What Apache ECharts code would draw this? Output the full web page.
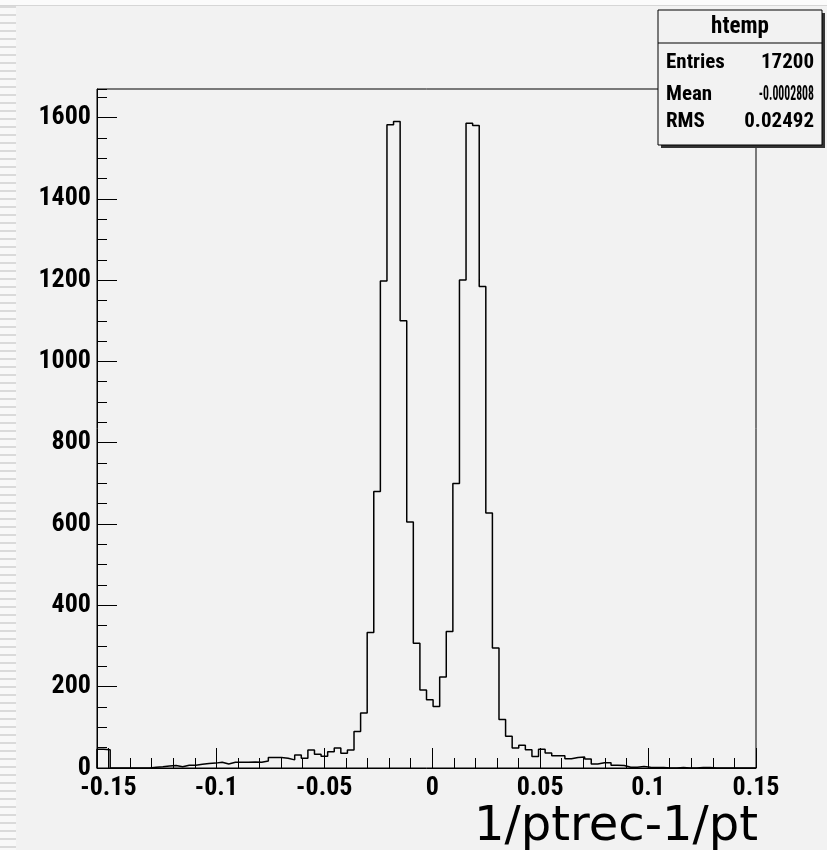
<!DOCTYPE html>
<html>
<head>
<meta charset="utf-8">
<title>htemp</title>
<script src="https://cdn.jsdelivr.net/npm/echarts/dist/echarts.min.js"></script>
<style>
  html, body { margin: 0; padding: 0; }
  body {
    width: 827px; height: 850px;
    background:
      linear-gradient(to bottom, #fbfbfb 0, #fbfbfb 5px, #d6d6d6 5px, #d6d6d6 6px, transparent 6px) top left / 100% 6px no-repeat,
      repeating-linear-gradient(to bottom, #f8f8f8 0, #f8f8f8 6px, #dadada 6px, #dadada 8px) left top / 16px 100% no-repeat,
      #f2f2f2;
  }
  #main { width: 827px; height: 850px; }
</style>
</head>
<body>
<div id="main"></div>
<script>
// histogram htemp : 1/ptrec-1/pt, 100 bins
var X_MIN = -0.1553;
var X_MAX = 0.15;
var Y_MAX = 1670;
var counts = [
  46, 45, 0, 0, 0, 0, 0, 0, 2, 3,
  5, 6, 3, 7, 7, 9, 11, 12, 14, 10,
  14, 14, 14, 15, 14, 17, 26, 26, 24, 20,
  32, 24, 44, 34, 29, 40, 49, 36, 44, 90,
  135, 333, 680, 1198, 1582, 1590, 1100, 605, 307, 192,
  168, 151, 224, 336, 700, 1200, 1586, 1580, 1184, 627,
  295, 119, 78, 49, 56, 45, 28, 46, 37, 30,
  30, 23, 26, 27, 22, 10, 13, 13, 7, 6,
  2, 2, 4, 2, 1, 1, 0, 0, 1, 0,
  0, 1, 1, 0, 0, 0, 0, 0, 0, 0
];
var statNames = ['Entries', 'Mean', 'RMS'];
var statValues = ['17200', '-0.0002808', '0.02492'];
var histName = 'htemp';
var xTitle = '1/ptrec-1/pt';

var labelFont = "'Roboto Condensed', 'Liberation Sans Narrow', 'Liberation Sans', sans-serif";

var myChart = echarts.init(document.getElementById('main'), null, { renderer: 'canvas' });

// bin edges -> step outline
var binWidth = (X_MAX - X_MIN) / counts.length;
var outline = [[X_MIN, 0]];
for (var k = 0; k < counts.length; k++) {
  outline.push([X_MIN + k * binWidth, counts[k]]);
}
outline.push([X_MAX, 0]);

function plainNum(v) {
  return String(parseFloat(v.toFixed(6)));
}

// stats box, the long mean value is squeezed to fit like in the ROOT pave
var box = { x: 658, y: 10, w: 164, h: 135 };
var rowY = [53, 85, 112];
var statChildren = [
  { type: 'rect', shape: { x: 3, y: 3, width: box.w, height: box.h }, style: { fill: '#333' } },
  { type: 'rect', shape: { x: 0, y: 0, width: box.w, height: box.h }, style: { fill: '#f2f2f2', stroke: '#000', lineWidth: 1 } },
  { type: 'line', shape: { x1: 0, y1: 33, x2: box.w, y2: 33 }, style: { stroke: '#000', lineWidth: 1 } },
  { type: 'text', x: box.w / 2, y: 17, style: { text: histName, font: "bold 23px " + labelFont, fill: '#000', align: 'center', verticalAlign: 'middle' } }
];
for (var i = 0; i < statNames.length; i++) {
  statChildren.push({ type: 'text', x: 8, y: rowY[i],
    style: { text: statNames[i], font: "bold 21px " + labelFont, fill: '#000', align: 'left', verticalAlign: 'middle' } });
  statChildren.push({ type: 'text', x: 156, y: rowY[i], scaleX: statValues[i].length > 8 ? 0.56 : 1,
    style: { text: statValues[i], font: "bold 21px " + labelFont, fill: '#000', align: 'right', verticalAlign: 'middle' } });
}

var option = {
  animation: false,
  title: {
    text: xTitle, right: 69, top: 804, padding: 0,
    textStyle: { fontFamily: 'DejaVu Sans', fontSize: 48, fontWeight: 'normal', color: '#000' }
  },
  grid: { left: 97, right: 71, top: 89, bottom: 82, containLabel: false, outerBoundsMode: 'none',
    show: true, borderColor: '#000', borderWidth: 1, backgroundColor: 'transparent' },
  xAxis: [{
    type: 'value', min: X_MIN, max: X_MAX, splitNumber: 6, position: 'bottom',
    axisLine: { onZero: false, lineStyle: { color: '#000', width: 1 } },
    axisTick: { inside: true, length: 20, lineStyle: { color: '#000', width: 1 } },
    axisLabel: { showMinLabel: false, margin: 7, color: '#000', fontFamily: labelFont, fontWeight: 'bold', fontSize: 26, formatter: plainNum },
    splitLine: { show: false }
  }, {
    type: 'value', min: X_MIN, max: X_MAX, splitNumber: 30, position: 'bottom',
    axisLine: { show: false, onZero: false },
    axisTick: { inside: true, length: 10, lineStyle: { color: '#000', width: 1 } },
    axisLabel: { show: false },
    splitLine: { show: false }
  }],
  yAxis: [{
    type: 'value', min: 0, max: Y_MAX, interval: 200, position: 'left',
    axisLine: { show: true, onZero: false, lineStyle: { color: '#000', width: 1 } },
    axisTick: { show: true, inside: true, length: 20, lineStyle: { color: '#000', width: 1 } },
    axisLabel: { showMaxLabel: false, margin: 6, padding: [7, 0, 0, 0], color: '#000', fontFamily: labelFont, fontWeight: 'bold', fontSize: 26, formatter: plainNum },
    splitLine: { show: false }
  }, {
    type: 'value', min: 0, max: Y_MAX, interval: 50, position: 'left',
    axisLine: { show: false, onZero: false },
    axisTick: { show: true, inside: true, length: 10, lineStyle: { color: '#000', width: 1 } },
    axisLabel: { show: false },
    splitLine: { show: false }
  }],
  series: [{
    name: histName,
    type: 'line',
    step: 'end',
    xAxisIndex: 0,
    yAxisIndex: 0,
    symbol: 'none',
    data: outline,
    lineStyle: { color: '#000', width: 1.5 }
  }],
  graphic: [{
    type: 'group', x: box.x, y: box.y, z: 100,
    children: statChildren
  }]
};
myChart.setOption(option);
</script>
</body>
</html>
